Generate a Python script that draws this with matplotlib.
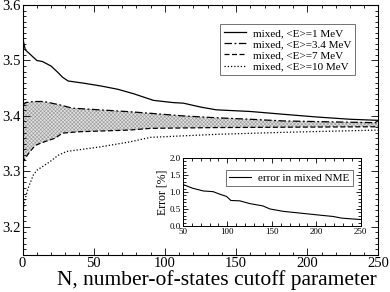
import numpy as np
import matplotlib
matplotlib.use("Agg")
import matplotlib.pyplot as plt
from matplotlib.ticker import MultipleLocator

plt.rcParams["font.family"] = ["Liberation Serif", "DejaVu Serif"]
plt.rcParams["hatch.linewidth"] = 0.4

# <E>=1 MeV (solid)
n_e1 = [0, 1, 2, 5, 10, 14, 20, 25, 28, 32, 43, 55, 67, 78, 85, 92, 106, 113, 125,
        136, 160, 183, 207, 230, 250]
v_e1 = [3.543, 3.53, 3.519, 3.512, 3.500, 3.498, 3.490, 3.478, 3.470, 3.463, 3.459,
        3.454, 3.448, 3.440, 3.434, 3.428, 3.424, 3.423, 3.416, 3.411, 3.408, 3.403,
        3.398, 3.394, 3.392]

# <E>=3.4 MeV (dash-dot)
n_e34 = [0, 2, 8, 15, 26, 35, 54, 75, 90, 113, 136, 160, 183, 206, 250]
v_e34 = [3.418, 3.424, 3.426, 3.426, 3.420, 3.414, 3.411, 3.4076, 3.4047, 3.400,
         3.3967, 3.394, 3.391, 3.3898, 3.3877]

# <E>=7 MeV (dashed)
n_e7 = [0, 2, 5, 9, 15, 23, 28, 40, 75, 90, 136, 250]
v_e7 = [3.315, 3.324, 3.335, 3.347, 3.353, 3.360, 3.369, 3.3715, 3.3745, 3.3776,
        3.379, 3.3805]

# <E>=10 MeV (dotted)
n_e10 = [0, 2, 4, 7.5, 10, 19, 25, 31, 54, 75, 90, 136, 183, 250]
v_e10 = [3.225, 3.252, 3.270, 3.293, 3.302, 3.317, 3.329, 3.336, 3.344, 3.353,
         3.3614, 3.3668, 3.3704, 3.3745]

# inset: error in mixed NME [%]
n_err = [50, 61, 73, 84, 91, 99, 104, 114, 125, 140, 148, 163, 178, 200, 219, 229, 250]
err = [1.22, 1.11, 1.03, 1.01, 0.94, 0.87, 0.75, 0.74, 0.66, 0.59, 0.50, 0.43,
       0.39, 0.33, 0.28, 0.23, 0.19]


def style_ticks(ax, size_major, size_minor):
    ax.tick_params(which="both", direction="in", top=True, right=True, width=0.6)
    ax.tick_params(which="major", length=size_major)
    ax.tick_params(which="minor", length=size_minor)


fig = plt.figure(figsize=(3.9, 2.92), dpi=100)
ax = fig.add_axes([0.0577, 0.128, 0.9128, 0.855])

# shaded band between 3.4 MeV and 7 MeV curves
grid = np.union1d(n_e34, n_e7)
upper = np.interp(grid, n_e34, v_e34)
lower = np.interp(grid, n_e7, v_e7)
ax.fill_between(grid, lower, upper, facecolor="0.88", edgecolor="0.6",
                hatch="xxxxxxxxx", linewidth=0)

ax.plot(n_e1, v_e1, color="black", lw=0.9, label="mixed, <E>=1 MeV")
ax.plot(n_e34, v_e34, color="black", lw=0.9, dashes=(6, 2, 1.5, 2),
        label="mixed, <E>=3.4 MeV")
ax.plot(n_e7, v_e7, color="black", lw=0.9, dashes=(4, 2), label="mixed, <E>=7 MeV")
ax.plot(n_e10, v_e10, color="black", lw=0.9, dashes=(1, 1.6),
        label="mixed, <E>=10 MeV")

ax.set_xlim(0, 250)
ax.set_ylim(3.15, 3.6)
ax.xaxis.set_major_locator(MultipleLocator(50))
ax.xaxis.set_minor_locator(MultipleLocator(10))
ax.yaxis.set_major_locator(MultipleLocator(0.1))
ax.yaxis.set_minor_locator(MultipleLocator(0.01))
style_ticks(ax, 5, 2.5)
ax.tick_params(labelsize=10.5, pad=1.5)
for s in ax.spines.values():
    s.set_linewidth(0.8)
ax.set_xlabel("N, number-of-states cutoff parameter", fontsize=15.5, labelpad=0)
ax.xaxis.set_label_coords(0.545, -0.062)

leg = ax.legend(loc="upper right", bbox_to_anchor=(0.935, 0.922), fontsize=8,
                frameon=True, fancybox=False, edgecolor="0.2", handlelength=2.0,
                labelspacing=0.12, borderpad=0.35, handletextpad=0.6,
                borderaxespad=0)
leg.get_frame().set_linewidth(0.6)

# inset
axi = fig.add_axes([0.469, 0.226, 0.456, 0.233])
axi.plot(n_err, err, color="black", lw=0.8, label="error in mixed NME")
axi.set_xlim(50, 250)
axi.set_ylim(0, 2)
axi.xaxis.set_major_locator(MultipleLocator(50))
axi.xaxis.set_minor_locator(MultipleLocator(10))
axi.yaxis.set_major_locator(MultipleLocator(0.5))
axi.yaxis.set_minor_locator(MultipleLocator(0.1))
style_ticks(axi, 3.5, 2)
axi.tick_params(labelsize=6.5, pad=1.5)
for s in axi.spines.values():
    s.set_linewidth(0.7)
axi.set_ylabel("Error [%]", fontsize=8.5, labelpad=1)
legi = axi.legend(loc="upper right", bbox_to_anchor=(0.955, 0.83), fontsize=8,
                  frameon=True, fancybox=False, edgecolor="0.2", handlelength=2.0,
                  borderpad=0.3, handletextpad=0.6, borderaxespad=0)
legi.get_frame().set_linewidth(0.6)

fig.savefig("out.png", dpi=100)
